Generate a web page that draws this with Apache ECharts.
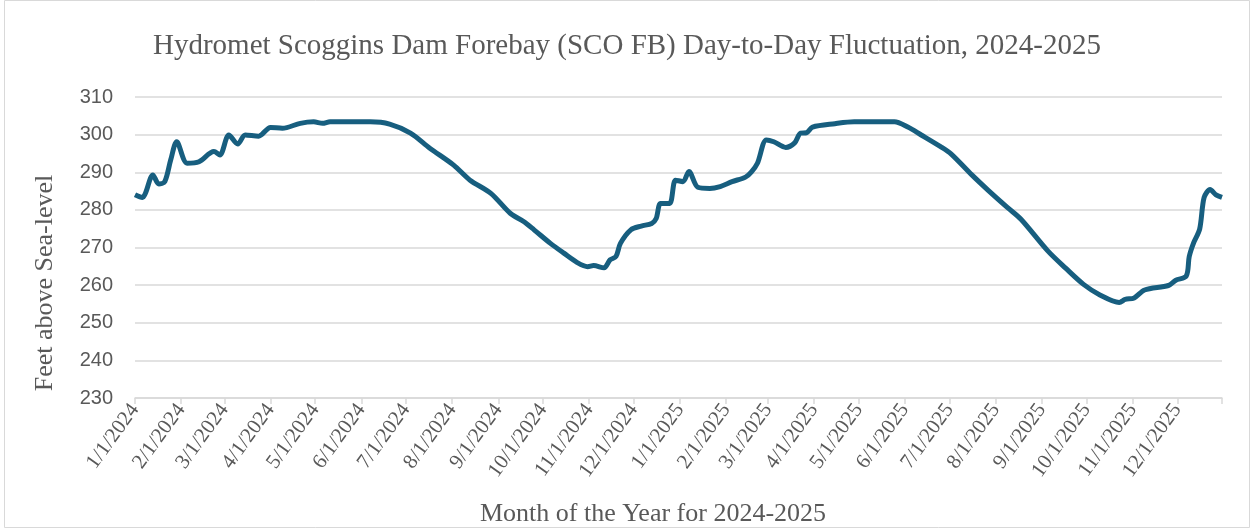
<!DOCTYPE html>
<html lang="en">
<head>
<meta charset="UTF-8">
<title>Scoggins Dam Forebay</title>
<script src="https://cdn.jsdelivr.net/npm/echarts@6/dist/echarts.min.js"></script>
<style>
  html, body { margin: 0; padding: 0; background: #fff; }
  #main { width: 1254px; height: 529px; }
</style>
</head>
<body>
<div id="main"></div>
<script type="text/javascript">
  // readings taken off the chart: date and forebay elevation (ft)
  var dates = [
    '2024-01-01', '2024-01-06', '2024-01-08', '2024-01-13', '2024-01-17', '2024-01-21', '2024-01-25', '2024-01-29',
    '2024-02-05', '2024-02-13', '2024-02-23', '2024-02-27', '2024-03-04', '2024-03-10', '2024-03-15', '2024-03-24',
    '2024-04-01', '2024-04-09', '2024-04-21', '2024-04-30', '2024-05-06', '2024-05-11', '2024-06-07', '2024-06-20',
    '2024-07-04', '2024-07-17', '2024-08-02', '2024-08-13', '2024-08-27', '2024-09-09', '2024-09-18', '2024-09-25',
    '2024-10-06', '2024-10-15', '2024-10-24', '2024-10-31', '2024-11-04', '2024-11-11', '2024-11-15', '2024-11-19',
    '2024-11-22', '2024-11-29', '2024-12-06', '2024-12-13', '2024-12-16', '2024-12-19', '2024-12-25', '2024-12-29',
    '2025-01-03', '2025-01-07', '2025-01-13', '2025-01-21', '2025-01-28', '2025-02-05', '2025-02-14', '2025-02-18',
    '2025-02-22', '2025-02-28', '2025-03-05', '2025-03-13', '2025-03-19', '2025-03-23', '2025-03-27', '2025-03-31',
    '2025-04-15', '2025-04-28', '2025-05-25', '2025-06-03', '2025-06-12', '2025-06-25', '2025-07-02', '2025-07-16',
    '2025-07-27', '2025-08-09', '2025-08-18', '2025-09-05', '2025-09-17', '2025-09-29', '2025-10-10', '2025-10-23',
    '2025-10-27', '2025-11-02', '2025-11-09', '2025-11-25', '2025-11-30', '2025-12-07', '2025-12-09', '2025-12-12',
    '2025-12-16', '2025-12-19', '2025-12-23', '2025-12-27', '2025-12-31'
  ];
  var levels = [
    284.0, 283.3, 284.4, 289.3, 286.9, 287.5, 293.3, 298.1,
    292.4, 292.8, 295.5, 294.6, 299.9, 297.5, 299.9, 299.6,
    301.9, 301.7, 303.0, 303.4, 303.0, 303.4, 303.4, 302.8,
    300.4, 296.4, 291.9, 287.9, 284.4, 279.1, 276.9, 274.7,
    271.1, 268.5, 266.0, 264.9, 265.2, 264.6, 266.7, 267.6,
    271.1, 274.7, 275.7, 276.4, 277.7, 281.7, 281.7, 287.9,
    287.5, 290.2, 286.0, 285.7, 286.2, 287.5, 288.7, 290.1,
    292.4, 298.6, 298.1, 296.6, 297.8, 300.4, 300.5, 302.0,
    302.9, 303.4, 303.4, 302.0, 299.9, 296.8, 294.9, 289.3,
    285.2, 280.6, 277.5, 269.1, 264.5, 260.2, 257.4, 255.4,
    256.2, 256.6, 258.7, 259.9, 261.3, 262.4, 267.6, 271.3,
    274.9, 283.3, 285.4, 284.0, 283.3
  ];
  var yMin = 230, yMax = 310, yStep = 10;

  function pad(n) { return n < 10 ? '0' + n : '' + n; }

  // one category per day, 1/1/2024 .. 12/31/2025
  var days = [];
  var d = new Date(2024, 0, 1);
  var last = new Date(2025, 11, 31);
  while (d <= last) {
    days.push(d.getFullYear() + '-' + pad(d.getMonth() + 1) + '-' + pad(d.getDate()));
    d.setDate(d.getDate() + 1);
  }
  var lookup = {};
  for (var i = 0; i < dates.length; i++) lookup[dates[i]] = levels[i];
  var lineData = days.map(function (s) { return s in lookup ? lookup[s] : null; });

  function monthStart(idx, val) { return val.slice(8) === '01'; }
  function tickAt(idx, val) { return val.slice(8) === '01' || idx === days.length - 1; }
  function fmtDate(val) {
    var p = val.split('-');
    return (+p[1]) + '/' + (+p[2]) + '/' + p[0];
  }

  var grey = '#595959';
  var myChart = echarts.init(document.getElementById('main'));
  myChart.setOption({
    animation: false,
    title: {
      text: 'Hydromet Scoggins Dam Forebay (SCO FB) Day-to-Day Fluctuation, 2024-2025',
      left: 'center',
      top: 27,
      textStyle: { fontFamily: 'Liberation Serif', fontSize: 29, fontWeight: 'normal', color: grey }
    },
    // chart-area border, and axis titles that sit off-centre in the original
    graphic: [{
      type: 'rect',
      shape: { x: 4.5, y: 0.5, width: 1245, height: 527 },
      style: { fill: 'none', stroke: '#d9d9d9', lineWidth: 1 },
      silent: true
    }, {
      type: 'text',
      x: 45,
      y: 283,
      rotation: Math.PI / 2,
      style: {
        text: 'Feet above Sea-level',
        fill: grey,
        font: '26px "Liberation Serif"',
        align: 'center',
        verticalAlign: 'middle'
      }
    }, {
      type: 'text',
      x: 653,
      y: 514,
      style: {
        text: 'Month of the Year for 2024-2025',
        fill: grey,
        font: '26px "Liberation Serif"',
        align: 'center',
        verticalAlign: 'middle'
      }
    }],
    grid: { left: 135, right: 32, top: 97, bottom: 131 },
    xAxis: {
      type: 'category',
      data: days,
      boundaryGap: false,
      axisLine: { lineStyle: { color: '#d9d9d9', width: 1.5 } },
      axisTick: { interval: tickAt, length: 6, lineStyle: { color: '#d9d9d9', width: 1.5 } },
      axisLabel: {
        interval: monthStart,
        rotate: 54,
        formatter: fmtDate,
        fontFamily: 'Liberation Serif',
        fontSize: 21,
        color: grey,
        margin: 8
      }
    },
    yAxis: {
      type: 'value',
      min: yMin,
      max: yMax,
      interval: yStep,
      axisLine: { show: false },
      axisTick: { show: false },
      splitLine: { lineStyle: { color: '#d9d9d9', width: 1.5 } },
      axisLabel: { fontFamily: 'Liberation Sans', fontSize: 20, color: grey, margin: 22 }
    },
    series: [{
      type: 'line',
      data: lineData,
      connectNulls: true,
      smooth: 0.3,
      showSymbol: false,
      lineStyle: { color: '#175e7f', width: 5 }
    }]
  });
</script>
</body>
</html>
